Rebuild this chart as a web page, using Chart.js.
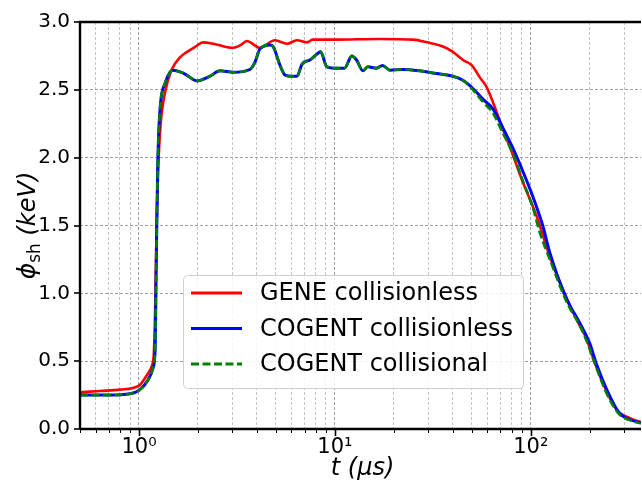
<!DOCTYPE html>
<html lang="en">
  <head>
    <meta charset="UTF-8" />
    <title>Shear potential</title>
    <style>
      * { margin: 0; padding: 0; }
      body { background: white; }
      .chartBox { width: 642px; height: 482px; }
    </style>
  </head>
  <body>
    <div class="chartBox">
      <canvas id="myChart" width="642" height="482"></canvas>
    </div>

    <script src="https://cdn.jsdelivr.net/npm/chart.js"></script>

    <script>
      // data block (t in microseconds, phi in keV)
      const seriesNames = ["GENE collisionless", "COGENT collisionless", "COGENT collisional"];

      const tGene = [0.5, 0.63, 0.8, 1.0, 1.1, 1.16, 1.19, 1.21, 1.23, 1.26, 1.29, 1.33, 1.4, 1.47, 1.62, 1.76, 1.95,
        2.12, 2.4, 2.98, 3.3, 3.55, 4.14, 4.94, 5.7, 6.4, 7.2, 7.7, 10, 17, 25, 29.5, 35.6, 40, 45, 50, 55, 59.5,
        64, 72, 81, 91, 107, 125, 152, 175, 193, 207, 233, 275, 320, 365];
      const phiGene = [0.27, 0.28, 0.29, 0.32, 0.40, 0.46, 0.55, 0.9, 1.5, 2.0, 2.25, 2.41, 2.56, 2.65, 2.74, 2.78, 2.82,
        2.85, 2.84, 2.81, 2.83, 2.86, 2.81, 2.865, 2.84, 2.865, 2.85, 2.87, 2.87, 2.875, 2.87, 2.85, 2.82, 2.78, 2.72, 2.68, 2.59, 2.52,
        2.41, 2.21, 2.02, 1.82, 1.57, 1.27, 0.97, 0.78, 0.66, 0.53, 0.34, 0.14, 0.08, 0.05];

      const tCogent = [0.5, 0.7, 0.9, 1.0, 1.11, 1.18, 1.21, 1.22, 1.23, 1.245, 1.26, 1.29, 1.36, 1.44, 1.49, 1.7, 1.98,
        2.3, 2.59, 3.02, 3.68, 3.9, 4.14, 4.66, 4.83, 5.25, 5.56, 6.0, 6.4, 6.8, 7.45, 8.2, 8.45, 9.1, 10.2, 11.2,
        12.2, 12.9, 13.9, 14.7, 16.3, 17.5, 19.1, 22.3, 27, 33, 40, 45, 50.6, 57, 64, 72, 81, 91, 102, 115, 125,
        152, 178, 200, 216, 244, 282, 320, 365];
      const phiCogent = [0.25, 0.25, 0.26, 0.285, 0.36, 0.45, 0.6, 1.0, 1.4, 1.9, 2.17, 2.41, 2.55, 2.63, 2.645, 2.62, 2.566,
        2.6, 2.64, 2.63, 2.65, 2.70, 2.80, 2.83, 2.82, 2.68, 2.61, 2.60, 2.60, 2.69, 2.72, 2.77, 2.78, 2.67, 2.66, 2.66,
        2.75, 2.72, 2.64, 2.67, 2.66, 2.68, 2.645, 2.65, 2.64, 2.62, 2.60, 2.57, 2.51, 2.43, 2.36, 2.22, 2.07, 1.90, 1.72, 1.50, 1.30,
        0.96, 0.78, 0.63, 0.48, 0.29, 0.12, 0.07, 0.045];

      const tCogentColl = [0.5, 0.7, 0.9, 1.0, 1.11, 1.18, 1.21, 1.22, 1.23, 1.245, 1.26, 1.29, 1.36, 1.44, 1.49, 1.7, 1.98,
        2.3, 2.59, 3.02, 3.68, 3.9, 4.14, 4.66, 4.83, 5.25, 5.56, 6.0, 6.4, 6.8, 7.45, 8.2, 8.45, 9.1, 10.2, 11.2,
        12.2, 12.9, 13.9, 14.7, 16.3, 17.5, 19.1, 22.3, 27, 33, 40, 45, 50.6, 57, 64, 72, 81, 91, 102, 111, 125,
        152, 178, 195, 210, 244, 282, 320, 365];
      const phiCogentColl = [0.25, 0.25, 0.26, 0.285, 0.36, 0.45, 0.6, 1.0, 1.4, 1.9, 2.17, 2.41, 2.55, 2.63, 2.645, 2.62, 2.566,
        2.6, 2.64, 2.63, 2.65, 2.70, 2.80, 2.83, 2.82, 2.68, 2.61, 2.60, 2.60, 2.69, 2.72, 2.77, 2.78, 2.67, 2.66, 2.66,
        2.75, 2.72, 2.64, 2.67, 2.66, 2.68, 2.645, 2.65, 2.64, 2.62, 2.60, 2.57, 2.50, 2.41, 2.33, 2.18, 2.03, 1.83, 1.64, 1.45, 1.25,
        0.94, 0.76, 0.63, 0.50, 0.26, 0.11, 0.065, 0.04];

      const xTicks = [0.5, 0.6, 0.7, 0.8, 0.9, 1, 2, 3, 4, 5, 6, 7, 8, 9, 10, 20, 30, 40, 50, 60, 70, 80, 90, 100, 200, 300];
      const xTickLabels = { 1: "10\u2070", 10: "10\u00b9", 100: "10\u00b2" };
      const yTicks = [0, 0.5, 1.0, 1.5, 2.0, 2.5, 3.0];

      const pts = (xs, ys) => xs.map((x, i) => ({ x, y: ys[i] }));
      const isMajor = (v) => Math.abs(Math.log10(v) - Math.round(Math.log10(v))) < 1e-9;

      // order: lower value is drawn on top, so green dashes sit over blue
      const data = {
        datasets: [
          { label: seriesNames[0], data: pts(tGene, phiGene), borderColor: "#ff0000", borderWidth: 2.6, order: 3 },
          { label: seriesNames[1], data: pts(tCogent, phiCogent), borderColor: "#0000ff", borderWidth: 3, order: 2 },
          { label: seriesNames[2], data: pts(tCogentColl, phiCogentColl), borderColor: "#008000", borderWidth: 2.6, borderDash: [8, 3.5], order: 1 }
        ]
      };

      // axis decorations: spines, ticks, titles, legend box
      const decorations = {
        id: "decorations",
        afterDraw(chart) {
          const { ctx, chartArea: a, scales } = chart;
          const x = scales.x, y = scales.y;
          ctx.save();
          ctx.strokeStyle = "black";

          // tick marks
          xTicks.forEach((v) => {
            if (v < x.min) return;
            const px = Math.round(x.getPixelForValue(v)) + 0.5;
            const major = isMajor(v);
            ctx.lineWidth = major ? 1.6 : 1;
            ctx.beginPath();
            ctx.moveTo(px, a.bottom);
            ctx.lineTo(px, a.bottom + (major ? 7 : 4));
            ctx.stroke();
          });
          yTicks.forEach((v) => {
            const py = Math.round(y.getPixelForValue(v));
            ctx.lineWidth = 1.6;
            ctx.beginPath();
            ctx.moveTo(a.left - 6, py);
            ctx.lineTo(a.left, py);
            ctx.stroke();
          });

          // spines
          ctx.lineWidth = 2.4;
          ctx.beginPath();
          ctx.moveTo(a.left, a.bottom);
          ctx.lineTo(a.left, a.top);
          ctx.lineTo(a.right, a.top);
          ctx.moveTo(a.left, a.bottom);
          ctx.lineTo(a.right, a.bottom);
          ctx.stroke();

          // x title
          ctx.fillStyle = "black";
          ctx.textAlign = "center";
          ctx.textBaseline = "alphabetic";
          ctx.font = "italic 24px 'DejaVu Sans'";
          ctx.fillText("t (\u03bcs)", (a.left + a.right) / 2 + 2, 475);

          // y title, rotated
          ctx.save();
          ctx.translate(35, (a.top + a.bottom) / 2);
          ctx.rotate(-Math.PI / 2);
          const parts = [
            { s: "\u03d5", f: "italic 25px 'DejaVu Sans'", dy: 0 },
            { s: "sh", f: "17px 'DejaVu Sans'", dy: 5 },
            { s: " (keV)", f: "italic 24px 'DejaVu Sans'", dy: 0 }
          ];
          let w = 0;
          parts.forEach((p) => { ctx.font = p.f; w += ctx.measureText(p.s).width; });
          let cx = -w / 2;
          ctx.textAlign = "left";
          parts.forEach((p) => {
            ctx.font = p.f;
            ctx.fillText(p.s, cx, p.dy);
            cx += ctx.measureText(p.s).width;
          });
          ctx.restore();

          // legend
          const lx = 183, ly = 275, lw = 340, lh = 113;
          ctx.beginPath();
          ctx.roundRect(lx + 0.5, ly + 0.5, lw, lh, 4);
          ctx.fillStyle = "rgba(255,255,255,0.85)";
          ctx.fill();
          ctx.strokeStyle = "#d0d0d0";
          ctx.lineWidth = 1;
          ctx.stroke();
          ctx.font = "24px 'DejaVu Sans'";
          ctx.textAlign = "left";
          ctx.textBaseline = "middle";
          chart.data.datasets.forEach((ds, i) => {
            const ry = 293 + i * 35.5;
            ctx.strokeStyle = ds.borderColor;
            ctx.lineWidth = 3;
            ctx.setLineDash(ds.borderDash || []);
            ctx.beginPath();
            ctx.moveTo(191, ry);
            ctx.lineTo(242, ry);
            ctx.stroke();
            ctx.setLineDash([]);
            ctx.fillStyle = "black";
            ctx.fillText(ds.label, 260, ry + 1);
          });
          ctx.restore();
        }
      };

      // config block
      const config = {
        type: "line",
        data,
        options: {
          responsive: false,
          animation: false,
          layout: { padding: { top: 19, right: 1, left: 0, bottom: 0 } },
          elements: {
            point: { radius: 0 },
            line: { cubicInterpolationMode: "monotone", fill: false }
          },
          scales: {
            x: {
              type: "logarithmic",
              min: 0.5,
              max: 365,
              afterBuildTicks: (scale) => { scale.ticks = xTicks.map((v) => ({ value: v })); },
              afterFit: (scale) => { scale.height = 53; },
              ticks: {
                autoSkip: false,
                maxRotation: 0,
                padding: 6,
                color: "black",
                font: { family: "'DejaVu Sans'", size: 21 },
                callback: (v) => xTickLabels[v] || ""
              },
              grid: {
                drawTicks: false,
                color: (c) => (c.tick && isMajor(c.tick.value) ? "#a0a0a0" : "#c4c4c4"),
                lineWidth: 1
              },
              border: { display: false, dash: [3, 2] }
            },
            y: {
              min: 0,
              max: 3,
              afterBuildTicks: (scale) => { scale.ticks = yTicks.map((v) => ({ value: v })); },
              afterFit: (scale) => { scale.width = 80; },
              ticks: {
                padding: 10,
                color: "black",
                font: { family: "'DejaVu Sans'", size: 20 },
                callback: (v) => Number(v).toFixed(1)
              },
              grid: { drawTicks: false, color: "#a0a0a0", lineWidth: 1 },
              border: { display: false, dash: [3, 2] }
            }
          },
          plugins: {
            legend: { display: false },
            tooltip: { enabled: false }
          }
        },
        plugins: [decorations]
      };

      // init render block
      const myChart = new Chart(document.getElementById("myChart"), config);
    </script>
  </body>
</html>
